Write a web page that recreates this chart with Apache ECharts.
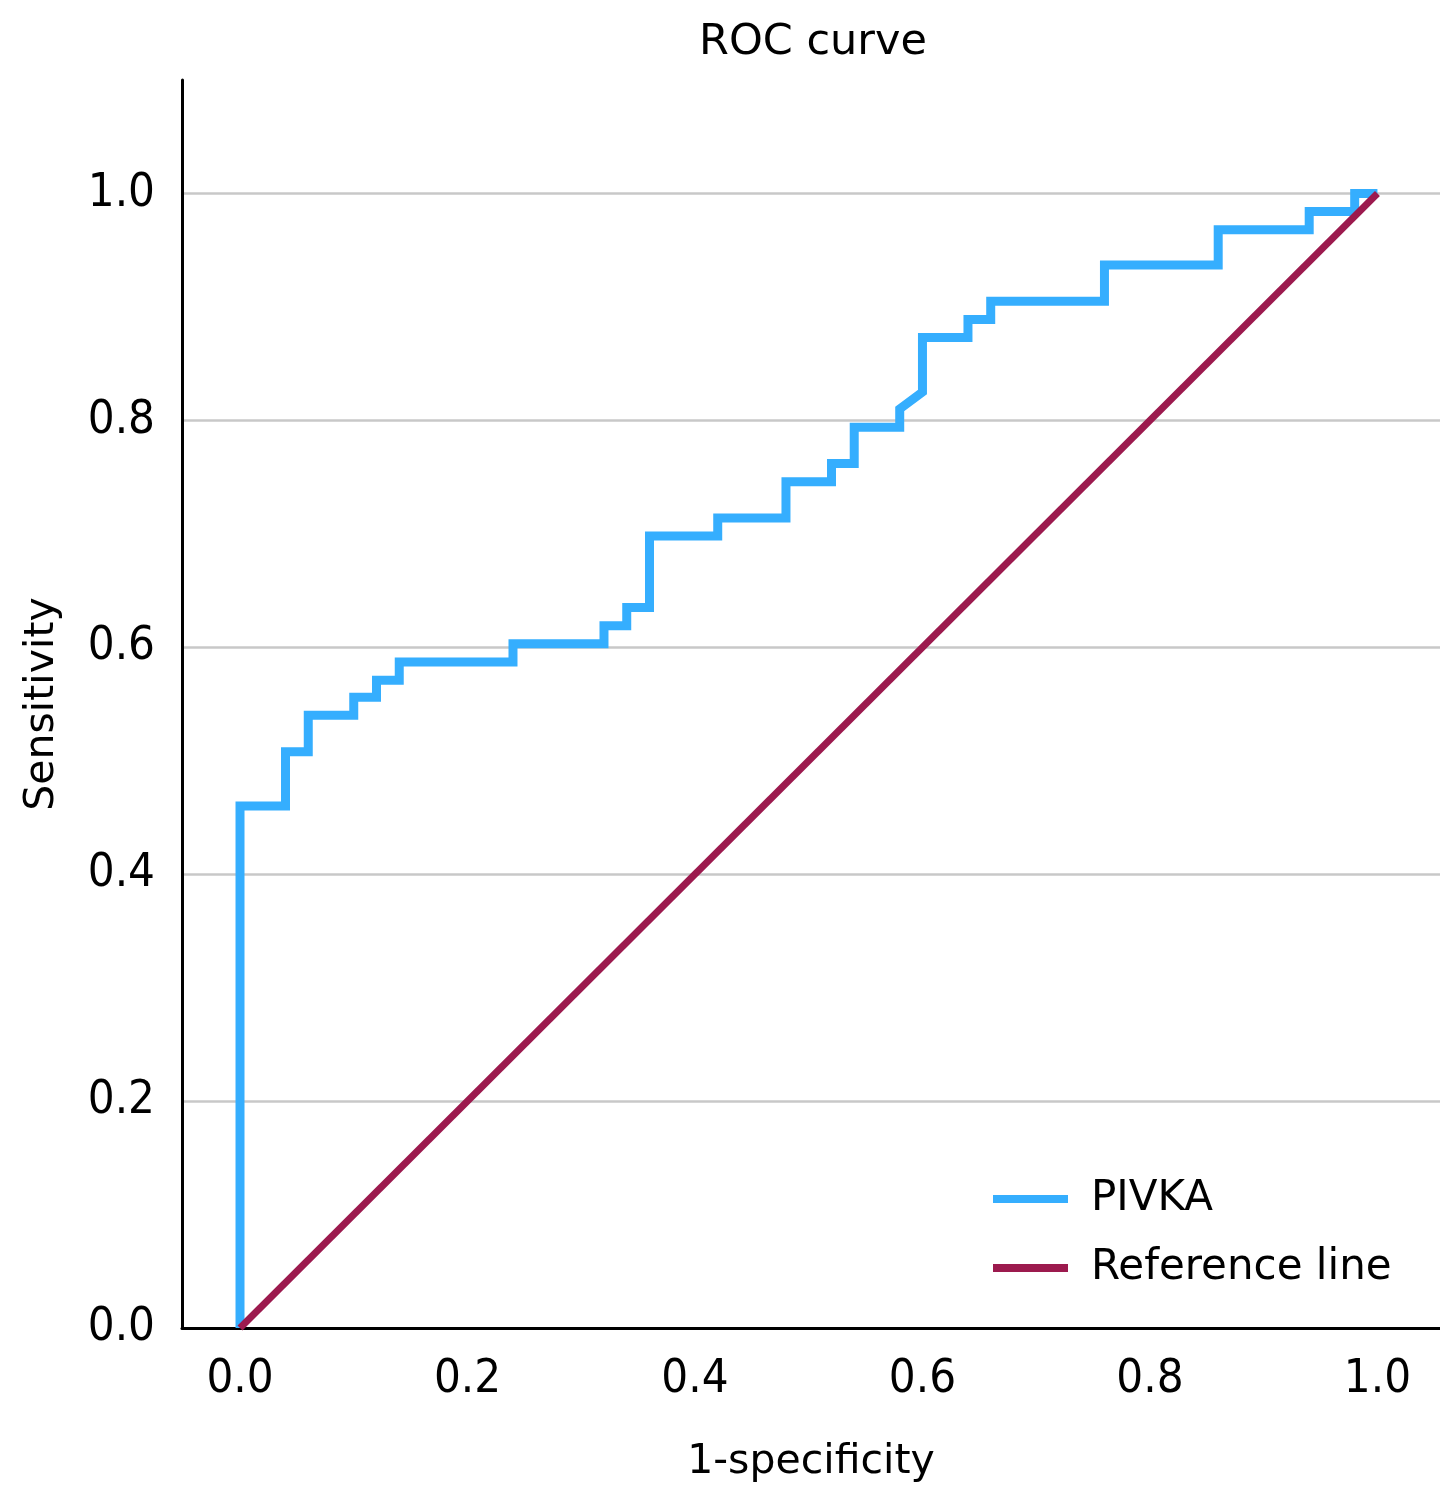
<!DOCTYPE html>
<html>
<head>
<meta charset="utf-8">
<script src="https://cdn.jsdelivr.net/npm/echarts@6/dist/echarts.min.js"></script>
<style>
html,body{margin:0;padding:0;background:#fff;}
#chart{width:1440px;height:1506px;}
</style>
</head>
<body>
<div id="chart"></div>
<script>
// Data
var titleText = 'ROC curve';
var xAxisName = '1-specificity';
var yAxisName = 'Sensitivity';
var seriesNames = ['PIVKA', 'Reference line'];
var tickValues = [0, 0.2, 0.4, 0.6, 0.8, 1.0];

// PIVKA ROC curve vertices (1-specificity, sensitivity)
var pivkaFpr = [0, 0, 0.04, 0.04, 0.06, 0.06, 0.10, 0.10, 0.12, 0.12, 0.14, 0.14, 0.24, 0.24, 0.32, 0.32, 0.34, 0.34, 0.36, 0.36, 0.42, 0.42, 0.48, 0.48, 0.52, 0.52, 0.54, 0.54, 0.58, 0.58, 0.60, 0.60, 0.64, 0.64, 0.66, 0.66, 0.76, 0.76, 0.86, 0.86, 0.94, 0.94, 0.98, 0.98, 1.00];
var pivkaTpr = [0, 0.460, 0.460, 0.508, 0.508, 0.540, 0.540, 0.556, 0.556, 0.571, 0.571, 0.587, 0.587, 0.603, 0.603, 0.619, 0.619, 0.635, 0.635, 0.698, 0.698, 0.714, 0.714, 0.746, 0.746, 0.762, 0.762, 0.794, 0.794, 0.810, 0.825, 0.873, 0.873, 0.889, 0.889, 0.905, 0.905, 0.937, 0.937, 0.968, 0.968, 0.984, 0.984, 1.000, 1.000];

// Reference (chance) line
var refX = [0, 1];
var refY = [0, 1];

function pairs(xs, ys) {
  var out = [];
  for (var i = 0; i < xs.length; i++) out.push([xs[i], ys[i]]);
  return out;
}

var BLUE = '#35aefe';
var MAROON = '#9c1a4e';
var FONT = 'DejaVu Sans';

var chart = echarts.init(document.getElementById('chart'));
chart.setOption({
  animation: false,
  backgroundColor: '#ffffff',
  title: {
    text: titleText,
    left: 808,
    textAlign: 'center',
    top: 16,
    textStyle: { fontFamily: FONT, fontSize: 43, fontWeight: 'normal', color: '#000' }
  },
  legend: {
    orient: 'vertical',
    left: 988,
    top: 1169,
    itemWidth: 75,
    itemHeight: 8,
    itemGap: 19,
    icon: 'rect',
    data: seriesNames,
    textStyle: { fontFamily: FONT, fontSize: 42, color: '#000', lineHeight: 50, padding: [0, 0, 0, 18] }
  },
  grid: { left: 182, right: 0, top: 80, bottom: 178, containLabel: false },
  xAxis: {
    type: 'value',
    min: -0.051,
    max: 1.055,
    name: xAxisName,
    nameLocation: 'middle',
    nameGap: 114,
    nameTextStyle: { fontFamily: FONT, fontSize: 41, color: '#000' },
    axisLine: { show: true, onZero: false, lineStyle: { color: '#000', width: 3 } },
    axisTick: { show: false },
    splitLine: { show: false },
    axisLabel: {
      customValues: tickValues,
      margin: 28,
      fontFamily: 'DejaVu Sans Condensed',
      fontSize: 47,
      color: '#000',
      formatter: function (v) { return v.toFixed(1); }
    }
  },
  yAxis: {
    type: 'value',
    min: 0,
    max: 1.1,
    interval: 0.2,
    name: yAxisName,
    nameLocation: 'middle',
    nameGap: 119,
    nameTextStyle: { fontFamily: FONT, fontSize: 41, color: '#000' },
    axisLine: { show: true, onZero: false, lineStyle: { color: '#000', width: 3 } },
    axisTick: { show: false },
    splitLine: { show: true, showMinLine: false, showMaxLine: false, lineStyle: { color: '#c8c8c8', width: 2.5 } },
    axisLabel: {
      showMaxLabel: false,
      margin: 27,
      fontFamily: 'DejaVu Sans Condensed',
      fontSize: 47,
      color: '#000',
      formatter: function (v) { return v.toFixed(1); }
    }
  },
  series: [
    {
      name: seriesNames[0],
      type: 'line',
      data: pairs(pivkaFpr, pivkaTpr),
      showSymbol: false,
      symbol: 'none',
      lineStyle: { color: BLUE, width: 9, join: 'miter' },
      itemStyle: { color: BLUE },
      z: 3
    },
    {
      name: seriesNames[1],
      type: 'line',
      data: pairs(refX, refY),
      showSymbol: false,
      symbol: 'none',
      lineStyle: { color: MAROON, width: 7 },
      itemStyle: { color: MAROON },
      z: 4
    }
  ]
});
</script>
</body>
</html>
